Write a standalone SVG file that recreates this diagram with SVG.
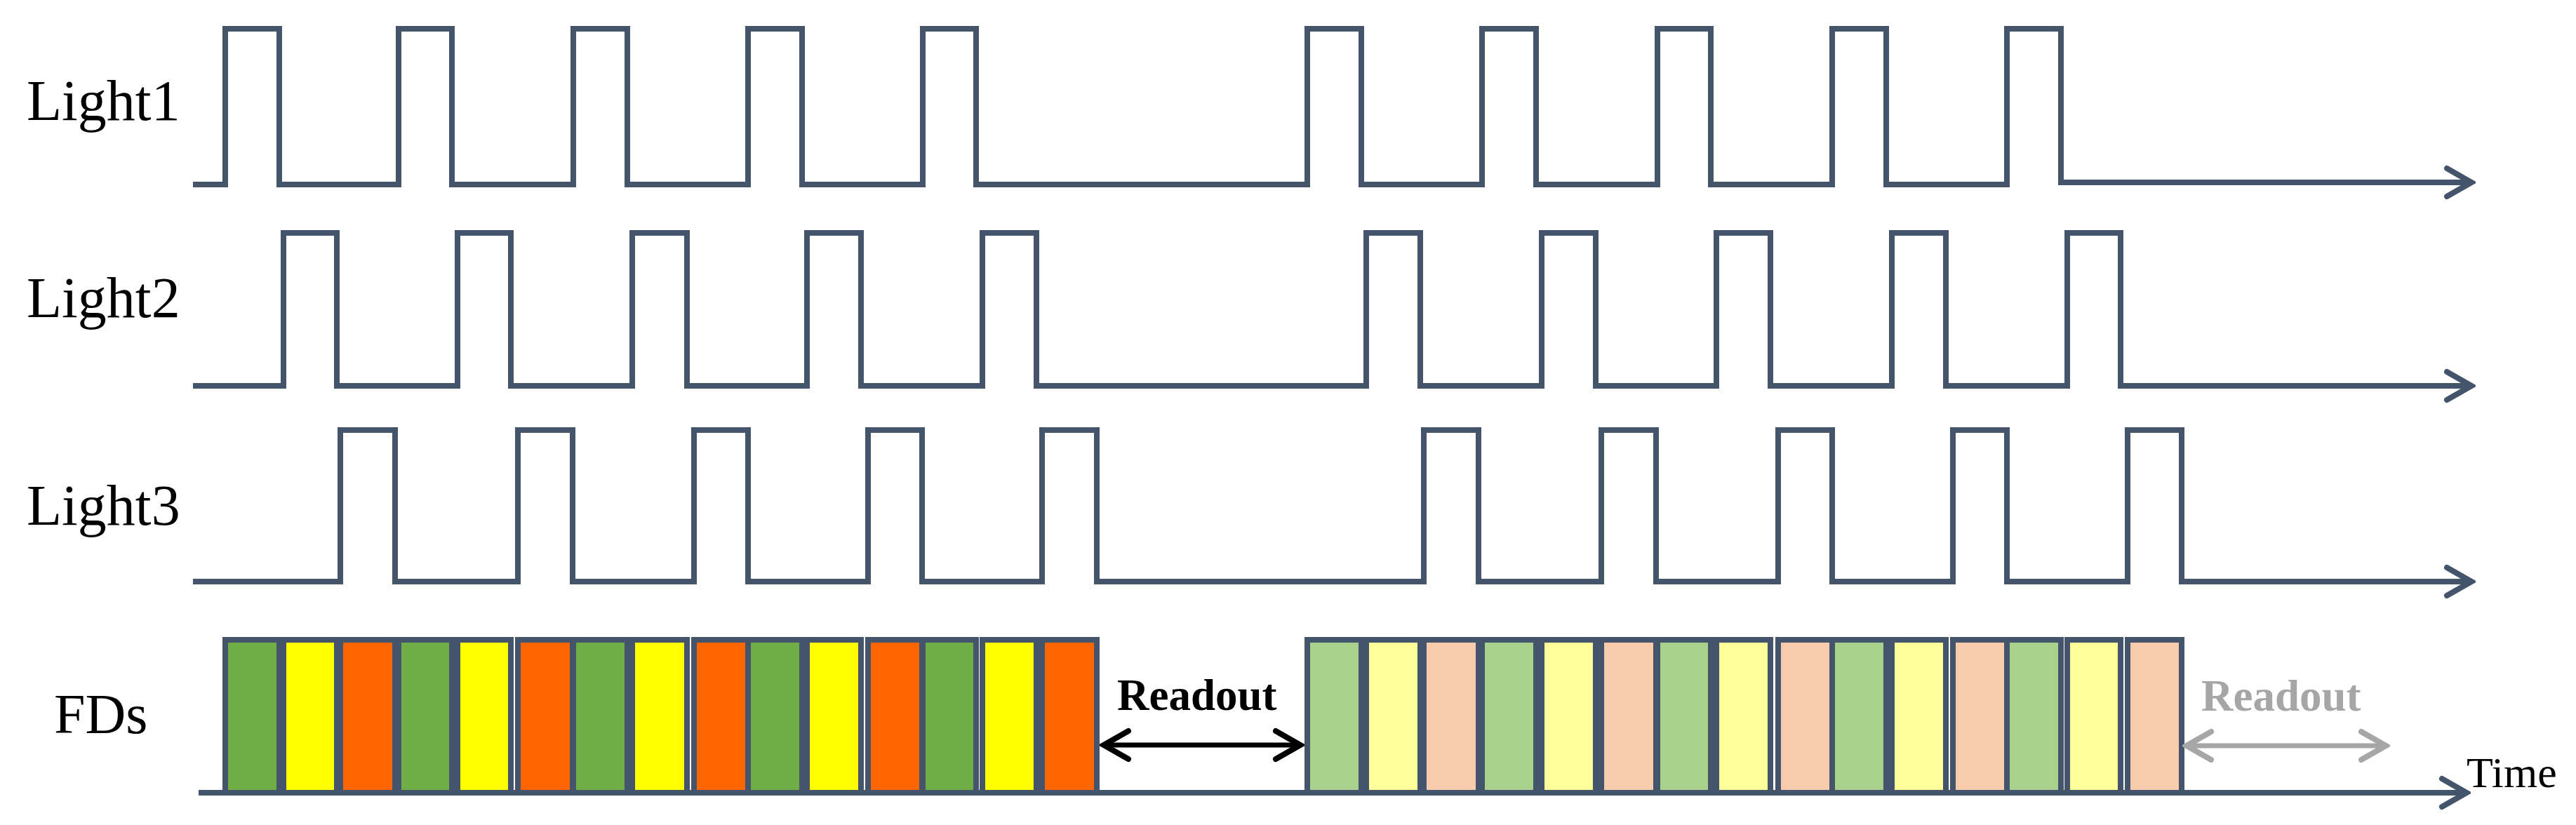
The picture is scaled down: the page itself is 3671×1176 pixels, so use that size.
<svg xmlns="http://www.w3.org/2000/svg" width="3671" height="1176" viewBox="0 0 3671 1176">
<style>
.sig{fill:none;stroke:#44546a;stroke-width:8;stroke-linejoin:miter}
.lbl{font-family:"Liberation Serif","Times New Roman",serif;font-size:82px;fill:#000}
.bar{stroke:#44546a;stroke-width:8}
.g{fill:#70ad47}.y{fill:#ffff00}.o{fill:#ff6600}
.lg{fill:#a9d18e}.ly{fill:#ffff99}.lo{fill:#f8cbad}
.ro{font-family:"Liberation Serif","Times New Roman",serif;font-size:63px;font-weight:bold}
</style>
<defs>
<marker id="chevDark" viewBox="-45 -25 50 50" refX="0" refY="0" markerWidth="50" markerHeight="50" markerUnits="userSpaceOnUse" orient="auto-start-reverse">
<path d="M-36,-20 L-1,0 L-36,20" fill="none" stroke="#44546a" stroke-width="8" stroke-linecap="round"/>
</marker>
<marker id="chevBlack" viewBox="-45 -25 50 50" refX="0" refY="0" markerWidth="50" markerHeight="50" markerUnits="userSpaceOnUse" orient="auto-start-reverse">
<path d="M-36,-20 L-1,0 L-36,20" fill="none" stroke="#000" stroke-width="8" stroke-linecap="round"/>
</marker>
<marker id="chevGrey" viewBox="-45 -25 50 50" refX="0" refY="0" markerWidth="50" markerHeight="50" markerUnits="userSpaceOnUse" orient="auto-start-reverse">
<path d="M-36,-20 L-1,0 L-36,20" fill="none" stroke="#a6a6a6" stroke-width="8" stroke-linecap="round"/>
</marker>
</defs>
<rect width="3671" height="1176" fill="#fff"/>

<g id="light1">
<text class="lbl" x="38" y="171">Light1</text>
<path class="sig" marker-end="url(#chevDark)" d="M275,263 H321 V41 H398 V263 H568 V41 H644 V263 H817 V41 H894 V263 H1066 V41 H1143 V263 H1315 V41 H1391 V263 H1863 V41 H1940 V263 H2112 V41 H2189 V263 H2362 V41 H2438 V263 H2611 V41 H2688 V263 H2860 V41 H2937 V260 H3523"/>
</g>

<g id="light2">
<text class="lbl" x="38" y="452">Light2</text>
<path class="sig" marker-end="url(#chevDark)" d="M275,550 H404 V332 H480 V550 H652 V332 H728 V550 H901 V332 H979 V550 H1150 V332 H1227 V550 H1400 V332 H1477 V550 H1947 V332 H2024 V550 H2197 V332 H2274 V550 H2446 V332 H2523 V550 H2696 V332 H2773 V550 H2946 V332 H3022 V550 H3523"/>
</g>

<g id="light3">
<text class="lbl" x="38" y="748">Light3</text>
<path class="sig" marker-end="url(#chevDark)" d="M275,829 H485 V613 H563 V829 H738 V613 H816 V829 H989 V613 H1066 V829 H1237 V613 H1314 V829 H1485 V613 H1563 V829 H2029 V613 H2107 V829 H2282 V613 H2360 V829 H2534 V613 H2611 V829 H2783 V613 H2860 V829 H3032 V613 H3109 V829 H3523"/>
</g>

<g id="fds">
<text class="lbl" x="77" y="1045" style="font-size:80px">FDs</text>
<g id="fd-group1">
<rect class="bar g" x="321" y="912" width="77" height="218"/>
<rect class="bar y" x="404" y="912" width="76" height="218"/>
<rect class="bar o" x="485" y="912" width="78" height="218"/>
<rect class="bar g" x="568" y="912" width="76" height="218"/>
<rect class="bar y" x="652" y="912" width="76" height="218"/>
<rect class="bar o" x="738" y="912" width="78" height="218"/>
<rect class="bar g" x="817" y="912" width="77" height="218"/>
<rect class="bar y" x="901" y="912" width="78" height="218"/>
<rect class="bar o" x="989" y="912" width="77" height="218"/>
<rect class="bar g" x="1066" y="912" width="77" height="218"/>
<rect class="bar y" x="1150" y="912" width="77" height="218"/>
<rect class="bar o" x="1237" y="912" width="77" height="218"/>
<rect class="bar g" x="1315" y="912" width="76" height="218"/>
<rect class="bar y" x="1400" y="912" width="77" height="218"/>
<rect class="bar o" x="1485" y="912" width="78" height="218"/>
</g>
<g id="fd-group2">
<rect class="bar lg" x="1863" y="912" width="77" height="218"/>
<rect class="bar ly" x="1947" y="912" width="77" height="218"/>
<rect class="bar lo" x="2029" y="912" width="78" height="218"/>
<rect class="bar lg" x="2112" y="912" width="77" height="218"/>
<rect class="bar ly" x="2197" y="912" width="77" height="218"/>
<rect class="bar lo" x="2282" y="912" width="78" height="218"/>
<rect class="bar lg" x="2362" y="912" width="76" height="218"/>
<rect class="bar ly" x="2446" y="912" width="77" height="218"/>
<rect class="bar lo" x="2534" y="912" width="77" height="218"/>
<rect class="bar lg" x="2611" y="912" width="77" height="218"/>
<rect class="bar ly" x="2696" y="912" width="77" height="218"/>
<rect class="bar lo" x="2783" y="912" width="77" height="218"/>
<rect class="bar lg" x="2860" y="912" width="77" height="218"/>
<rect class="bar ly" x="2946" y="912" width="76" height="218"/>
<rect class="bar lo" x="3032" y="912" width="77" height="218"/>
</g>
</g>

<g id="connectors">
<path class="sig" marker-end="url(#chevDark)" d="M283,1130 H3516"/>
<line x1="1572" y1="1062" x2="1854" y2="1062" stroke="#000" stroke-width="7" marker-start="url(#chevBlack)" marker-end="url(#chevBlack)"/>
<line x1="3115" y1="1063" x2="3401" y2="1063" stroke="#a6a6a6" stroke-width="7" marker-start="url(#chevGrey)" marker-end="url(#chevGrey)"/>
</g>

<g id="labels">
<text class="ro" x="1592" y="1012" fill="#000">Readout</text>
<text class="ro" x="3137" y="1013" fill="#a6a6a6">Readout</text>
<text class="lbl" x="3515" y="1122" style="font-size:62px">Time</text>
</g>
</svg>
